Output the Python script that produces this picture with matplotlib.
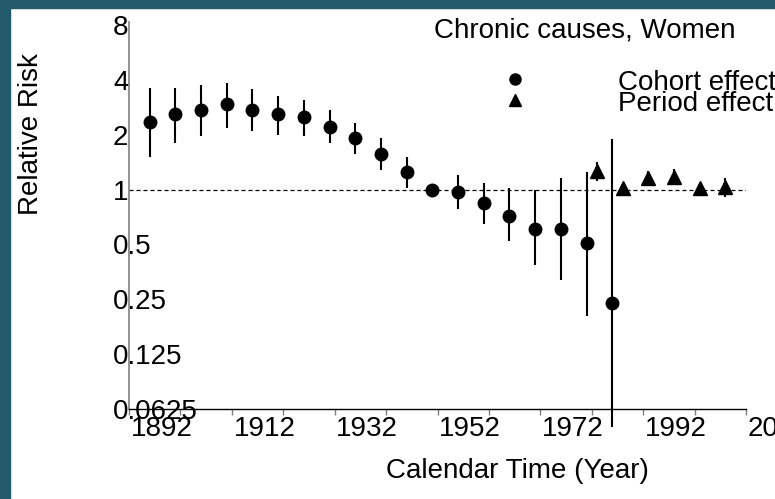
import matplotlib
matplotlib.use('Agg')
import matplotlib.pyplot as plt
from matplotlib.patches import Rectangle
from matplotlib.ticker import NullLocator
from matplotlib.transforms import ScaledTranslation
import numpy as np

plt.rcParams['font.family'] = ['Liberation Sans', 'DejaVu Sans']

# cohort effect (birth cohort) with 95% CI
cohort_year = [1896, 1901, 1906, 1911, 1916, 1921, 1926, 1931, 1936, 1941,
               1946, 1951, 1956, 1961, 1966, 1971, 1976, 1981, 1986]
cohort_rr = [2.34, 2.58, 2.72, 2.93, 2.72, 2.58, 2.49, 2.21, 1.92, 1.57,
             1.24, 1.00, 0.965, 0.84, 0.72, 0.61, 0.605, 0.51, 0.238]
cohort_lo = [1.50, 1.81, 1.97, 2.18, 2.09, 2.00, 1.97, 1.80, 1.57, 1.28,
             1.015, 1.00, 0.777, 0.645, 0.52, 0.383, 0.319, 0.203, 0.05]
cohort_hi = [3.59, 3.62, 3.73, 3.86, 3.58, 3.26, 3.08, 2.72, 2.32, 1.92,
             1.51, 1.00, 1.20, 1.08, 1.02, 0.99, 1.15, 1.25, 1.89]

# period effect with 95% CI
period_year = [1983, 1988, 1993, 1998, 2003, 2008]
period_rr = [1.27, 1.02, 1.15, 1.17, 1.02, 1.03]
period_lo = [1.12, 0.97, 1.04, 1.06, 0.97, 0.91]
period_hi = [1.42, 1.07, 1.26, 1.29, 1.07, 1.15]

ytick_vals = [8, 4, 2, 1, 0.5, 0.25, 0.125, 0.0625]
ytick_labels = ['8', '4', '2', '1', '0.5', '0.25', '0.125', '0.0625']
xtick_vals = np.arange(1892, 2013, 10)
xtick_labels = [str(y) if (y - 1892) % 20 == 0 else '' for y in xtick_vals]

TEAL = '#235a6b'
FS = 20

fig = plt.figure(figsize=(7.75, 4.99), dpi=100)
fig.patches.append(Rectangle((0, 0), 10 / 775, 1, transform=fig.transFigure,
                             color=TEAL, zorder=0))
fig.patches.append(Rectangle((0, 1 - 8 / 499), 1, 8 / 499, transform=fig.transFigure,
                             color=TEAL, zorder=0))

ax = fig.add_axes([129 / 775, 1 - 409 / 499, 617 / 775, 387 / 499])

ax.axhline(1, color='black', lw=0.9, ls=(0, (3.2, 2.4)), zorder=1)

ax.vlines(cohort_year, cohort_lo, cohort_hi, color='black', lw=1.5, clip_on=False, zorder=2)
ax.plot(cohort_year, cohort_rr, 'o', color='black', ms=9, clip_on=False, zorder=3)
ax.vlines(period_year, period_lo, period_hi, color='black', lw=1.5, zorder=2)
ax.plot(period_year, period_rr, '^', color='black', ms=10, zorder=3)

ax.set_yscale('log', base=2)
ax.set_ylim(0.0625, 8.3)
ax.set_xlim(1892, 2012)
ax.set_yticks(ytick_vals, ytick_labels)
ax.yaxis.set_minor_locator(NullLocator())
ax.set_xticks(xtick_vals, xtick_labels)

ax.tick_params(axis='y', length=0, pad=11.5, labelsize=FS)
for lab in ax.get_yticklabels():
    lab.set_horizontalalignment('left')
ax.tick_params(axis='x', length=4.3, width=1, color='#808080', pad=1, labelsize=FS)
shift = ScaledTranslation(32.5 / 100, 0, fig.dpi_scale_trans)
for lab in ax.get_xticklabels():
    lab.set_transform(lab.get_transform() + shift)

for s in ['top', 'right']:
    ax.spines[s].set_visible(False)
ax.spines['left'].set_color('#808080')
ax.spines['left'].set_linewidth(1.2)
ax.spines['bottom'].set_color('black')
ax.spines['bottom'].set_linewidth(1)

ax.set_xlabel('Calendar Time (Year)', fontsize=FS, va='center')
ax.xaxis.set_label_coords(0.630, -0.160)
fig.text(31 / 775, 1 - 134 / 499, 'Relative Risk', rotation=90, fontsize=FS,
         ha='center', va='center')

ax.text(0.739, 0.961, 'Chronic causes, Women', transform=ax.transAxes,
        fontsize=FS, ha='center', va='baseline')

# legend
ax.plot([0.6256], [0.853], 'o', color='black', ms=8, transform=ax.transAxes, clip_on=False)
ax.plot([0.6256], [0.798], '^', color='black', ms=9, transform=ax.transAxes, clip_on=False)
ax.text(0.7925, 0.824, 'Cohort effect', transform=ax.transAxes, fontsize=FS, va='baseline')
ax.text(0.7925, 0.770, 'Period effect', transform=ax.transAxes, fontsize=FS, va='baseline')

fig.savefig('out.png', dpi=100)
